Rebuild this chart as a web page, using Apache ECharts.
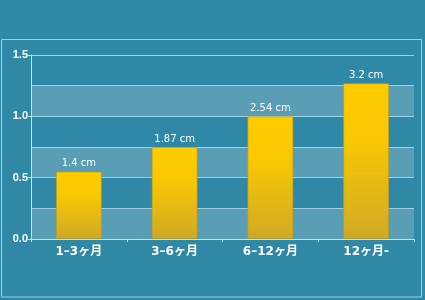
<!DOCTYPE html>
<html><head><meta charset="utf-8">
<script src="https://cdn.jsdelivr.net/npm/echarts@6/dist/echarts.min.js"></script>
<style>html,body{margin:0;padding:0;background:#2f88a5;}#c{width:425px;height:300px;}</style>
</head><body><div id="c"></div>
<script>
var categories = ['1\u20133ヶ月', '3\u20136ヶ月', '6\u201312ヶ月', '12ヶ月-'];
var barHeights = [0.55, 0.75, 1.0, 1.27];
var barLabels = ['1.4 cm', '1.87 cm', '2.54 cm', '3.2 cm'];
var yTicks = [0, 0.5, 1.0, 1.5];

var FONT = '"DejaVu Sans", Verdana, "Noto Sans CJK JP", sans-serif';
var FONT_Y = '"Liberation Sans", Arial, sans-serif';
var chart = echarts.init(document.getElementById('c'), null, {renderer: 'canvas'});
chart.setOption({
  backgroundColor: '#2f88a5',
  animation: false,
  graphic: [{
    type: 'rect', z: 0,
    shape: {x: 1.5, y: 39.5, width: 420, height: 257.5},
    style: {fill: 'none', stroke: '#9ccfe0', lineWidth: 1}
  }],
  grid: {left: 31, right: 11, top: 55, bottom: 61},
  xAxis: {
    type: 'category',
    data: categories,
    axisLine: {lineStyle: {color: '#bfe3ef', width: 1}},
    axisTick: {show: true, length: 3, lineStyle: {color: '#bfe3ef'}},
    axisLabel: {color: '#ffffff', fontWeight: 'bold', fontSize: 12, fontFamily: FONT, margin: 7}
  },
  yAxis: [{
    type: 'value', min: 0, max: 1.5, interval: 0.5,
    axisLine: {show: true, lineStyle: {color: '#bfe3ef', width: 1}},
    axisTick: {show: true, length: 3, lineStyle: {color: '#bfe3ef'}},
    axisLabel: {color: '#ffffff', fontWeight: 'bold', fontSize: 11, fontFamily: FONT_Y, margin: 3,
      formatter: function (v) { return yTicks.indexOf(v) >= 0 ? v.toFixed(1) : ''; }},
    splitLine: {show: false}
  }, {
    type: 'value', min: 0, max: 1.5, interval: 0.25, position: 'left',
    axisLine: {show: false}, axisTick: {show: false}, axisLabel: {show: false},
    splitLine: {show: true, lineStyle: {color: '#9fd0e1', width: 1}},
    splitArea: {show: true, areaStyle: {color: ['#5a9eb6', 'rgba(0,0,0,0)']}}
  }],
  series: [{
    type: 'bar',
    yAxisIndex: 0,
    data: barHeights,
    barWidth: 46,
    z: 3,
    itemStyle: {
      color: new echarts.graphic.LinearGradient(0, 0, 0, 1, [
        {offset: 0, color: '#ffcc00'},
        {offset: 0.35, color: '#f9c803'},
        {offset: 1, color: '#d0a925'}
      ]),
      borderColor: 'rgba(190,150,20,0.6)', borderWidth: 1
    },
    label: {
      show: true, position: 'top', distance: 3,
      color: '#ffffff', fontSize: 10, fontFamily: FONT,
      formatter: function (p) { return barLabels[p.dataIndex]; }
    }
  }]
});
</script></body></html>
